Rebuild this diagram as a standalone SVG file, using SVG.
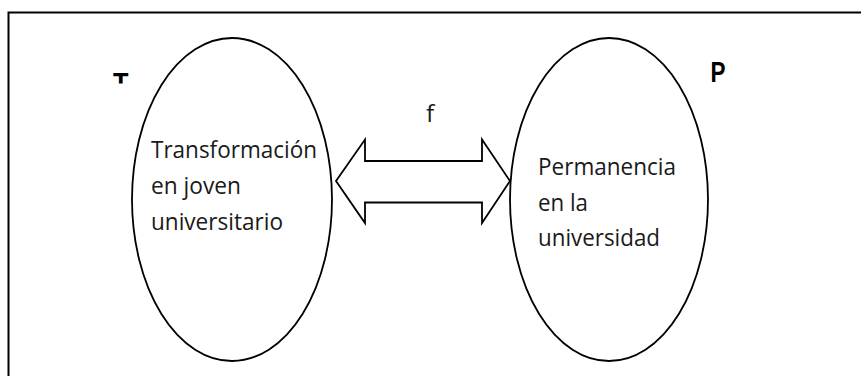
<svg xmlns="http://www.w3.org/2000/svg" width="861" height="376" viewBox="0 0 861 376">
<style>
.frame{fill:none;stroke:#000;stroke-width:2}
.set{fill:#fff;stroke:#000;stroke-width:1.8}
.arrow{fill:#fff;stroke:#000;stroke-width:1.8;stroke-linejoin:miter}
.txt{font-family:"Open Sans","Liberation Sans",sans-serif;font-size:24.5px;fill:#1a1a1a}
.lbl{font-family:"Liberation Sans",Arial,sans-serif;font-size:29px;font-weight:bold;fill:#000}
</style>
<defs>
<clipPath id="clipT"><rect x="100" y="60" width="40" height="23.5"/></clipPath>
</defs>
<rect width="861" height="376" fill="#fff"/>
<path class="frame" d="M8.5,376 V12.5 H861"/>
<g id="connectors">
<path class="arrow" d="M336,181 L365,139.5 V161 H482 V139.5 L510,181 L482,223 V202.5 H365 V223 Z"/>
<text class="txt" x="426" y="122">f</text>
</g>
<g id="node-T">
<ellipse class="set" cx="232" cy="199.5" rx="100" ry="161.5"/>
<text class="txt" x="151" y="157.5" textLength="166" lengthAdjust="spacingAndGlyphs">Transformación</text>
<text class="txt" x="151" y="193.5" textLength="90" lengthAdjust="spacingAndGlyphs">en joven</text>
<text class="txt" x="151" y="230" textLength="132" lengthAdjust="spacingAndGlyphs">universitario</text>
<text class="lbl" x="113" y="92.5" textLength="15.5" lengthAdjust="spacingAndGlyphs" clip-path="url(#clipT)">T</text>
</g>
<g id="node-P">
<ellipse class="set" cx="609" cy="199.5" rx="99" ry="161.5"/>
<text class="txt" x="538" y="174.5" textLength="138" lengthAdjust="spacingAndGlyphs">Permanencia</text>
<text class="txt" x="538" y="210.5" textLength="50" lengthAdjust="spacingAndGlyphs">en la</text>
<text class="txt" x="538" y="246" textLength="122" lengthAdjust="spacingAndGlyphs">universidad</text>
<text class="lbl" x="710.5" y="82.3" textLength="15" lengthAdjust="spacingAndGlyphs">P</text>
</g>
</svg>
